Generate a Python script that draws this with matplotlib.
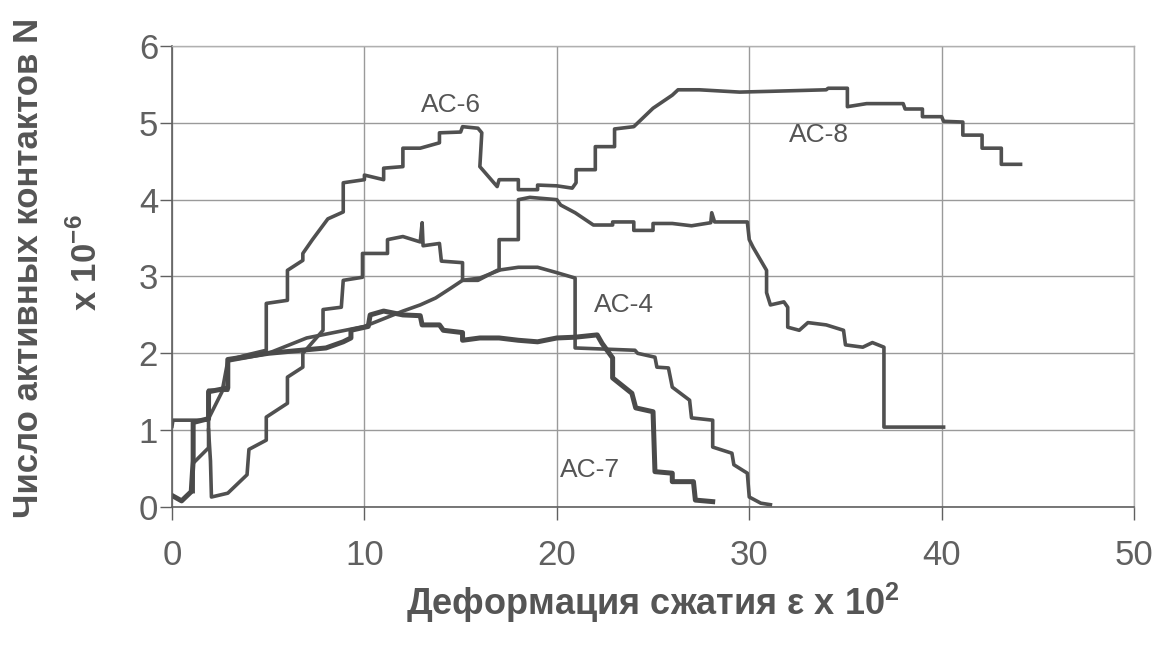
import matplotlib
matplotlib.use('Agg')
import matplotlib.pyplot as plt

# кривые числа активных контактов
x6 = [0.0, 0.05, 1.9, 1.9, 2.9, 2.9, 3.9, 4.9, 4.9, 6.0, 6.0, 6.8, 6.8, 7.3, 8.1, 8.9, 8.9, 10.0, 10.0, 11.0,
      11.0, 12.0, 12.0, 12.9, 13.9, 13.9, 15.0, 15.1, 15.9, 16.1, 16.0, 16.9, 17.0, 18.0, 18.0, 19.0, 19.0, 20.0,
      20.8, 21.0, 21.0, 22.0, 22.0, 23.0, 23.0, 24.0, 25.0, 26.0, 26.3, 27.4, 29.5, 31.1, 34.0, 34.1, 35.1, 35.1,
      36.1, 38.0, 38.1, 39.0, 39.0, 40.0, 40.1, 41.1, 41.1, 42.1, 42.1, 43.1, 43.1, 44.1]
y6 = [1.05, 1.13, 1.13, 1.52, 1.52, 1.91, 1.98, 2.04, 2.65, 2.69, 3.08, 3.21, 3.30, 3.48, 3.75, 3.84, 4.22, 4.26,
      4.32, 4.26, 4.41, 4.43, 4.67, 4.67, 4.74, 4.87, 4.88, 4.95, 4.93, 4.87, 4.43, 4.17, 4.26, 4.26, 4.13, 4.13,
      4.19, 4.18, 4.15, 4.22, 4.39, 4.39, 4.69, 4.69, 4.92, 4.95, 5.19, 5.36, 5.43, 5.43, 5.40, 5.41, 5.43, 5.45,
      5.45, 5.21, 5.25, 5.25, 5.18, 5.18, 5.08, 5.08, 5.02, 5.01, 4.84, 4.84, 4.67, 4.67, 4.46, 4.46]

x7 = [0.0, 0.5, 1.0, 1.1, 1.1, 1.9, 1.9, 2.9, 2.9, 5.0, 8.0, 8.9, 9.3, 9.3, 10.2, 10.3, 11.0, 12.0, 12.9, 13.0,
      13.9, 14.1, 15.1, 15.1, 16.0, 17.0, 18.0, 19.0, 20.0, 20.95, 22.1, 22.35, 22.9, 22.9, 23.9, 24.1, 25.0, 25.1,
      26.0, 26.0, 27.1, 27.2, 28.1]
y7 = [0.15, 0.08, 0.2, 0.6, 1.1, 1.15, 1.5, 1.55, 1.92, 2.0, 2.07, 2.15, 2.2, 2.3, 2.35, 2.5, 2.55, 2.5, 2.49,
      2.37, 2.37, 2.3, 2.27, 2.17, 2.2, 2.2, 2.17, 2.15, 2.2, 2.21, 2.24, 2.13, 1.94, 1.68, 1.48, 1.29, 1.24, 0.46,
      0.44, 0.33, 0.33, 0.09, 0.07]

x4 = [1.9, 2.0, 2.05, 2.9, 3.9, 4.0, 4.9, 4.9, 6.0, 6.0, 6.8, 6.8, 7.85, 7.85, 8.8, 8.9, 9.9, 9.9, 11.2, 11.2,
      12.0, 12.9, 13.0, 13.05, 13.9, 14.0, 15.1, 15.1, 15.9, 16.9, 18.0, 19.0, 20.0, 20.95, 20.95, 24.06, 24.2,
      25.1, 25.2, 25.8, 26.0, 26.9, 27.0, 28.1, 28.1, 29.1, 29.2, 29.9, 30.0, 30.6, 31.1]
y4 = [1.0, 0.6, 0.13, 0.18, 0.42, 0.75, 0.87, 1.17, 1.35, 1.69, 1.82, 2.0, 2.3, 2.57, 2.6, 2.95, 2.99, 3.3, 3.3,
      3.48, 3.52, 3.45, 3.7, 3.4, 3.43, 3.2, 3.18, 2.95, 2.95, 3.08, 3.12, 3.12, 3.05, 2.98, 2.07, 2.04, 2.0, 1.95,
      1.82, 1.81, 1.56, 1.39, 1.16, 1.13, 0.78, 0.70, 0.55, 0.44, 0.13, 0.05, 0.03]

x8 = [1.1, 1.1, 1.9, 1.9, 2.6, 2.9, 4.0, 5.0, 6.0, 7.0, 8.0, 9.0, 10.0, 11.0, 12.0, 12.9, 13.7, 14.5, 15.1, 16.0,
      17.0, 17.0, 18.0, 18.0, 18.6, 20.0, 20.2, 20.95, 21.9, 22.9, 22.9, 24.0, 24.0, 25.0, 25.0, 26.0, 27.0, 28.0,
      28.05, 28.2, 29.0, 29.9, 30.0, 30.2, 30.9, 30.9, 31.1, 31.8, 32.0, 32.0, 32.6, 33.05, 34.0, 34.9, 35.0,
      35.9, 36.4, 37.0, 37.0, 40.1]
y8 = [0.2, 0.57, 0.77, 1.15, 1.5, 1.9, 1.95, 2.0, 2.1, 2.2, 2.25, 2.3, 2.35, 2.45, 2.55, 2.63, 2.72, 2.85, 2.95,
      2.98, 3.08, 3.48, 3.48, 4.0, 4.03, 4.0, 3.93, 3.83, 3.67, 3.67, 3.71, 3.71, 3.6, 3.6, 3.69, 3.69, 3.66, 3.7,
      3.83, 3.71, 3.71, 3.71, 3.48, 3.38, 3.08, 2.79, 2.63, 2.67, 2.6, 2.34, 2.3, 2.4, 2.37, 2.3, 2.11, 2.08, 2.14,
      2.08, 1.04, 1.04]

labels = ['AC-6', 'AC-8', 'AC-4', 'AC-7']
label_x = [14.5, 33.6, 23.5, 21.7]
label_y = [5.23, 4.84, 2.63, 0.48]

plt.rcParams['font.family'] = ['Liberation Sans', 'DejaVu Sans']
plt.rcParams['mathtext.fontset'] = 'custom'
plt.rcParams['mathtext.rm'] = 'Liberation Sans:bold'
plt.rcParams['mathtext.bf'] = 'Liberation Sans:bold'

txt = '#555555'
fig = plt.figure(figsize=(11.74, 6.57), dpi=100)
ax = fig.add_axes([0.1465, 0.2283, 0.8195, 0.7017])

line_c = '#505050'
ax.plot(x6, y6, color=line_c, lw=2.6)
ax.plot(x8, y8, color=line_c, lw=2.6)
ax.plot(x4, y4, color=line_c, lw=2.6)
ax.plot(x7, y7, color='#4a4a4a', lw=3.6)

for lab, lx, ly in zip(labels, label_x, label_y):
    ax.text(lx, ly, lab, fontsize=19, color=txt, ha='center', va='center')

ax.set_xlim(0, 50)
ax.set_ylim(0, 6)
ax.set_xticks(range(0, 51, 10))
ax.set_yticks(range(0, 7))
ax.grid(True, color='#9a9a9a', lw=1)
ax.set_axisbelow(True)
for side in ['top', 'right']:
    ax.spines[side].set_color('#b0b0b0')
    ax.spines[side].set_linewidth(1)
for side in ['left', 'bottom']:
    ax.spines[side].set_color('#606060')
    ax.spines[side].set_linewidth(1.2)
ax.tick_params(axis='both', direction='out', length=9, width=1, colors='#606060',
               labelsize=25, labelcolor='#606060')
ax.tick_params(axis='x', pad=14)
ax.tick_params(axis='y', pad=1)

fig.text(0.556, 0.082, 'Деформация сжатия ε x 10$^{2}$', fontsize=26, fontweight='bold',
         color=txt, ha='center', va='center')
fig.text(0.024, 0.592, 'Число активных контактов N', fontsize=25, fontweight='bold',
         color=txt, ha='center', va='center', rotation=90)
fig.text(0.073, 0.60, 'x 10$^{-6}$', fontsize=25, fontweight='bold',
         color=txt, ha='center', va='center', rotation=90)

fig.savefig('out.png', dpi=100, facecolor='white')
